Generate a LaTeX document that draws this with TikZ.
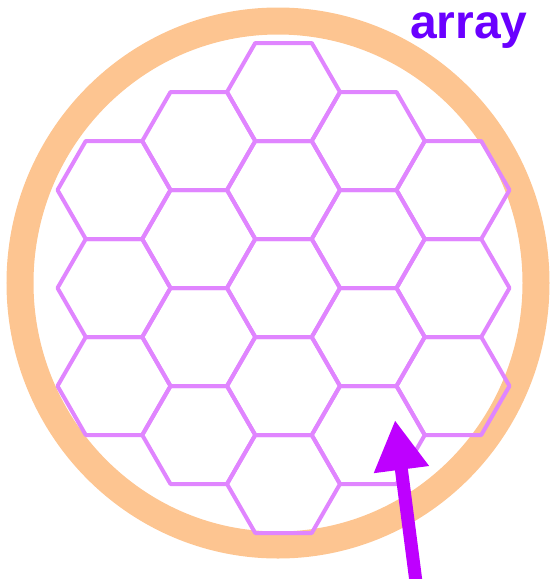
\documentclass[tikz,border=0pt]{standalone}
\usepackage{fontspec}
\setmainfont{Liberation Sans}
\usetikzlibrary{arrows.meta}
\definecolor{ringc}{HTML}{FDC591}
\definecolor{hexc}{HTML}{E085FF}
\definecolor{arrowc}{HTML}{BE00FF}
\definecolor{textc}{HTML}{6A00FF}
\begin{document}
\begin{tikzpicture}[x=1pt,y=-1pt,
  ringline/.style={draw=ringc,line width=27pt},
  hexcell/.style={draw=hexc,line width=4pt,line join=round},
  pointer/.style={draw=arrowc,line width=13pt,-{Triangle[length=50pt,width=52pt]}},
  titletext/.style={text=textc,font=\bfseries\fontsize{48}{48}\selectfont,inner sep=0pt,text height=26pt,text depth=11pt,anchor=base west}]
\useasboundingbox (0,0) rectangle (557,579);
\draw[ringline] (278,283) ellipse [x radius=258, y radius=262];
\foreach \c/\n/\ys in {-2/3/190, -1/4/141, 0/5/92, 1/4/141, 2/3/190}{
  \foreach \k in {1,...,\n}{
    \pgfmathsetmacro\cx{283.5+84.75*\c}
    \pgfmathsetmacro\cy{\ys+98*(\k-1)}
    \draw[hexcell] (\cx,\cy) ++(56.5,0) -- ++(-28.25,49) -- ++(-56.5,0) -- ++(-28.25,-49) -- ++(28.25,-49) -- ++(56.5,0) -- cycle;
  }
}
\coordinate (tail) at (416,582);
\coordinate (tip) at (395,420);
\draw[pointer] (tail) -- (tip);
\node[titletext] (arraylbl) at (410,38) {array};
\end{tikzpicture}
\end{document}
